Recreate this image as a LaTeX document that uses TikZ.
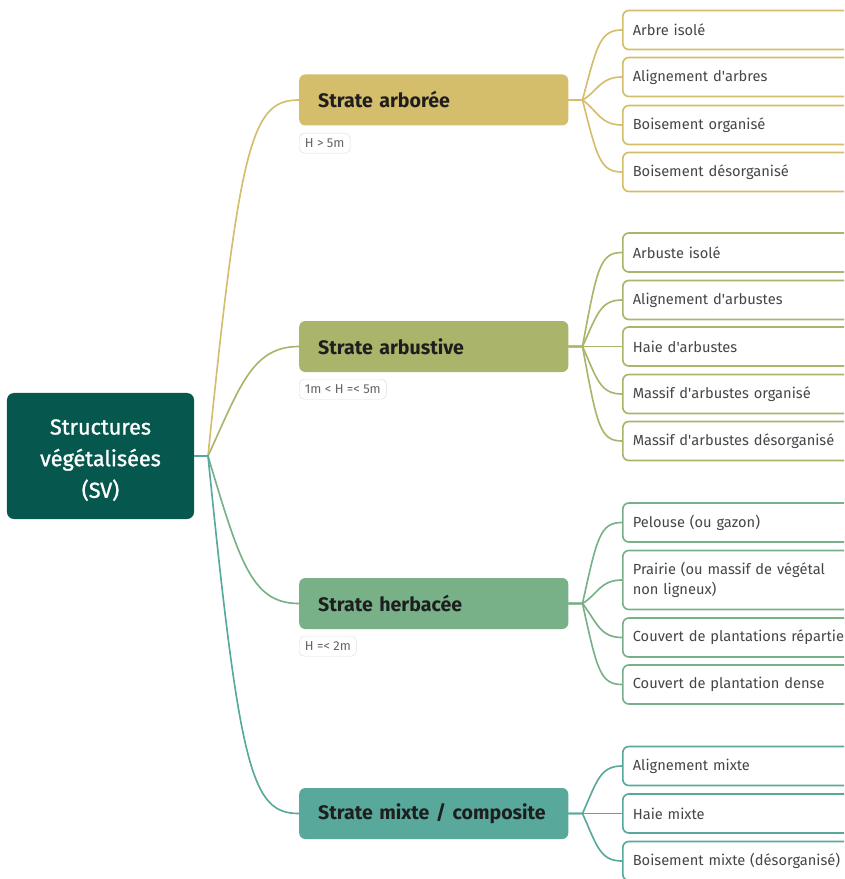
\documentclass[tikz,border=0pt]{standalone}
\usepackage{fontspec}
\setmainfont{Fira Sans}
\newfontfamily\racinefont[FakeBold=1.2]{Fira Sans}
\usetikzlibrary{calc}
\definecolor{svRoot}{RGB}{6,88,79}
\definecolor{svArbo}{RGB}{212,189,107}
\definecolor{svArbu}{RGB}{170,181,107}
\definecolor{svHerb}{RGB}{120,177,136}
\definecolor{svMixt}{RGB}{88,168,155}
\definecolor{svText}{RGB}{30,30,30}
\definecolor{svLeafText}{RGB}{70,70,70}
\definecolor{svTag}{RGB}{100,100,100}
\definecolor{svTagLine}{RGB}{220,220,220}

\tikzset{
  strate/.style={anchor=west,rounded corners=0.18cm,minimum height=1.53cm,text width=6.93cm,
    inner xsep=0.57cm,align=left,font=\fontsize{16.7}{20}\bfseries,text=svText},
  feuille/.style={anchor=west,draw,line width=1.4pt,fill=white,rounded corners=0.18cm,
    text width=6.6cm,inner xsep=0.3cm,align=left,font=\fontsize{12.5}{17}\selectfont,text=svLeafText},
  hauteur/.style={anchor=north west,draw=svTagLine,rounded corners=0.15cm,minimum height=0.6cm,
    inner xsep=0.17cm,font=\fontsize{11}{13}\selectfont,text=svTag},
  lien/.style={line width=1.4pt},
}

\begin{document}
\begin{tikzpicture}[x=0.03cm,y=-0.03cm]
    \useasboundingbox (0,0) rectangle (844,879);
    \clip (0,0) rectangle (844,879);

    % racine
    \node[fill=svRoot,rounded corners=0.21cm,minimum width=5.61cm,minimum height=3.78cm,align=center,
      text=white,font=\racinefont\fontsize{18.5}{27}\selectfont] (sv) at (100.5,456)
      {\rule{0pt}{20pt}Structures\\végétalisées\\(SV)};
    \coordinate (fsv) at (208,456);

    % strates
    \node[strate,fill=svArbo] (sarbo) at (299,100) {Strate arborée};
    \node[strate,fill=svArbu] (sarbu) at (299,346.5) {Strate arbustive};
    \node[strate,fill=svHerb] (sherb) at (299,603.5) {Strate herbacée};
    \node[strate,fill=svMixt] (smixt) at (299,813.5) {Strate mixte / composite};
    \node[hauteur] (harbo) at (299,133) {H > 5m};
    \node[hauteur] (harbu) at (299,379) {1m < H =< 5m};
    \node[hauteur] (hherb) at (299,636) {H =< 2m};

    \foreach \nom/\col/\sg in {sarbo/svArbo/1,sarbu/svArbu/1,sherb/svHerb/-1,smixt/svMixt/-1}{
      \draw[lien,\col] (sv.east) -- (fsv) .. controls ($(\nom.west)+(-59,40*\sg)$) and ($(\nom.west)+(-47,0)$) .. (\nom.west);
    }

    % feuilles
    \coordinate (farbo) at ($(sarbo.east)+(14,0)$);
    \coordinate (farbu) at ($(sarbu.east)+(14,0)$);
    \coordinate (fherb) at ($(sherb.east)+(14,0)$);
    \coordinate (fmixt) at ($(smixt.east)+(14,0)$);

    \foreach \i/\y/\sg/\hh/\txt in {1/30/1/1.17/Arbre isolé,2/77/1/1.17/Alignement d\textquotesingle arbres,
        3/125/-1/1.17/Boisement organisé,4/172/-1/1.17/Boisement désorganisé}{
      \node[feuille,draw=svArbo,minimum height=\hh cm] (arbo\i) at (622,\y) {\txt};
      \draw[lien,svArbo] (sarbo.east) -- (farbo) .. controls ($(arbo\i.west)+(-25,15*\sg)$) and ($(arbo\i.west)+(-22,0)$) .. (arbo\i.west);
    }
    \foreach \i/\y/\sg/\hh/\txt in {1/252.5/1/1.17/Arbuste isolé,2/300/1/1.17/Alignement d\textquotesingle arbustes,
        3/346.5/0/1.17/Haie d\textquotesingle arbustes,4/394/-1/1.17/Massif d\textquotesingle arbustes organisé,
        5/441/-1/1.17/Massif d\textquotesingle arbustes désorganisé}{
      \node[feuille,draw=svArbu,minimum height=\hh cm] (arbu\i) at (622,\y) {\txt};
      \draw[lien,svArbu] (sarbu.east) -- (farbu) .. controls ($(arbu\i.west)+(-25,15*\sg)$) and ($(arbu\i.west)+(-22,0)$) .. (arbu\i.west);
    }
    \foreach \i/\y/\sg/\hh/\txt in {1/522.5/1/1.17/Pelouse (ou gazon),2/580/1/1.77/{Prairie (ou massif de végétal\\non ligneux)},
        3/637.5/-1/1.17/Couvert de plantations répartie,4/684.5/-1/1.17/Couvert de plantation dense}{
      \node[feuille,draw=svHerb,minimum height=\hh cm] (herb\i) at (622,\y) {\txt};
      \draw[lien,svHerb] (sherb.east) -- (fherb) .. controls ($(herb\i.west)+(-25,15*\sg)$) and ($(herb\i.west)+(-22,0)$) .. (herb\i.west);
    }
    \foreach \i/\y/\sg/\hh/\txt in {1/766/1/1.17/Alignement mixte,2/813.5/0/1.17/Haie mixte,
        3/861/-1/1.17/Boisement mixte (désorganisé)}{
      \node[feuille,draw=svMixt,minimum height=\hh cm] (mixt\i) at (622,\y) {\txt};
      \draw[lien,svMixt] (smixt.east) -- (fmixt) .. controls ($(mixt\i.west)+(-25,15*\sg)$) and ($(mixt\i.west)+(-22,0)$) .. (mixt\i.west);
    }
\end{tikzpicture}
\end{document}
